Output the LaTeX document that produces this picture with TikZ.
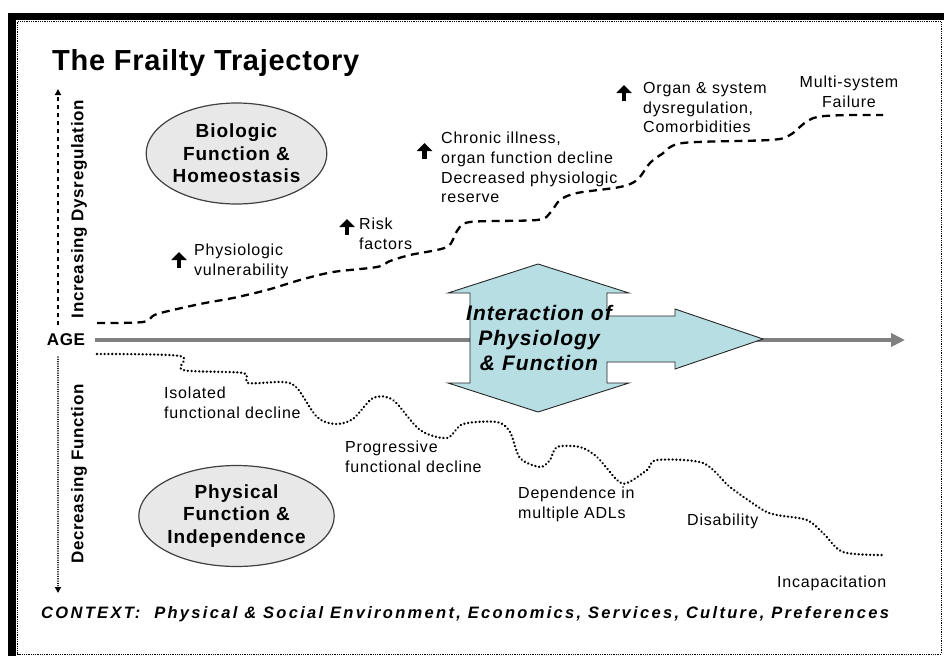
\documentclass[tikz,border=0pt]{standalone}
\usepackage{fontspec}
\setmainfont{Liberation Sans}
\usetikzlibrary{arrows.meta,shapes.geometric}
\definecolor{arrowfill}{RGB}{183,222,227}
\definecolor{ellfill}{RGB}{232,232,232}
\definecolor{axisgray}{RGB}{128,128,128}
\begin{document}
\begin{tikzpicture}[x=1pt,y=-1pt,
  lbl/.style={inner sep=0pt, anchor=north west, align=left,
    font=\fontsize{16pt}{19.7pt}\selectfont\addfontfeatures{LetterSpace=5}},
  ellbox/.style={ellipse, draw=black!75, line width=1.2pt, fill=ellfill,
    minimum width=177pt, minimum height=101pt, inner sep=0pt, align=center,
    font=\bfseries\fontsize{19pt}{22.5pt}\selectfont\addfontfeatures{LetterSpace=5}},
  sidelbl/.style={rotate=90, inner sep=0pt,
    font=\bfseries\fontsize{17pt}{20pt}\selectfont\addfontfeatures{LetterSpace=4}},
  uparr/.style={line width=4.6pt, -{Triangle[width=15pt,length=8pt]}},
  dashcurve/.style={line width=2.3pt, dash pattern=on 8pt off 5.5pt},
  dotcurve/.style={line width=2.6pt, line cap=round, dash pattern=on 0.01pt off 3.8pt},
]
\useasboundingbox (0,0) rectangle (944,656);
% frame
\fill[black] (8,13) rectangle (944,20);
\fill[black] (8,13) rectangle (16,656);
\draw[densely dotted, line width=0.8pt] (17.5,21.5) rectangle (941,654);

% title
\node[inner sep=0pt, anchor=north west,
  font=\bfseries\fontsize{29pt}{34pt}\selectfont\addfontfeatures{LetterSpace=2.5}]
  (title) at (52,49) {The Frailty Trajectory};

% side labels
\node[sidelbl] (incdys) at (79,209) {Increasing Dysregulation};
\node[sidelbl] (decfun) at (79,474) {Decreasing Function};
\node[inner sep=0pt, font=\bfseries\fontsize{17pt}{20pt}\selectfont\addfontfeatures{LetterSpace=4}]
  (age) at (66,340) {AGE};

% vertical arrows
\coordinate (vupA) at (58,325);
\coordinate (vupB) at (58,89);
\coordinate (vdnA) at (58,357);
\coordinate (vdnB) at (58,593);
\draw[line width=1.6pt, dash pattern=on 4pt off 4pt, -{Triangle[width=6pt,length=6pt]}] (vupA) -- (vupB);
\draw[line width=1.5pt, line cap=round, dash pattern=on 0.01pt off 2.3pt, -{Triangle[width=6pt,length=6pt]}] (vdnA) -- (vdnB);

% axis
\coordinate (axstart) at (95,340);
\coordinate (axend) at (905,340);
\draw[axisgray, line width=4pt, -{Triangle[width=13pt,length=14pt]}] (axstart) -- (axend);

% ellipses
\node[ellbox] (bio) at (236.5,153.5) {Biologic\\Function \&\\Homeostasis};
\node[ellbox] (phys) at (236.5,516) {Physical\\Function \&\\Independence};

% dashed (upper) trajectory
\draw[dashcurve] plot[smooth, tension=0.5] coordinates {
 (97,323) (143,322) (157,314) (200,304) (233,298) (267,290) (300,280) (333,272)
 (377,267) (390,261) (410,255) (447,247) (457,231) (470,222) (537,220) (550,213)
 (560,200) (577,193) (620,187) (637,180) (650,163) (662,154) (683,143) (770,140)
 (790,135) (817,117) (883,115)};

% dotted (lower) trajectory
\draw[dotcurve] plot[smooth, tension=0.5] coordinates {
 (97,354) (180,356) (183,370) (243,373) (248,383) (283,382) (297,388) (317,417)
 (335,424) (353,419) (373,398) (393,400) (420,430) (447,438) (463,424) (497,422)
 (510,432) (520,458) (540,467) (550,460) (557,447) (580,447) (597,457) (617,480)
 (627,483) (647,470) (657,460) (703,463) (730,487) (763,510) (777,515) (807,520)
 (823,533) (843,552) (882,555)};

% interaction arrow
\draw[fill=arrowfill, draw=black!85, line width=0.9pt, line join=miter]
 (538,264) -- (629,293) -- (607,293) -- (607,316) -- (675,316) -- (675,309)
 -- (763,339) -- (675,369) -- (675,362) -- (607,362) -- (607,383) -- (629,383)
 -- (538,412) -- (448,383) -- (470,383) -- (470,293) -- (448,293) -- cycle;
\node[inner sep=0pt, align=center,
  font=\bfseries\itshape\fontsize{21pt}{25pt}\selectfont\addfontfeatures{LetterSpace=5}]
  (inter) at (539,338) {Interaction of\\Physiology\\\& Function};

% upper labels
\draw[uparr] (179,268) -- (179,252);
\node[lbl] (vuln) at (194,244) {Physiologic\\vulnerability};
\draw[uparr] (347,235) -- (347,219);
\node[lbl] (risk) at (359,218) {Risk\\factors};
\draw[uparr] (424.5,159) -- (424.5,143);
\node[lbl] (chron) at (441,132) {Chronic illness,\\organ function decline\\Decreased physiologic\\reserve};
\draw[uparr] (624,101) -- (624,85);
\node[lbl] (organ) at (643,82) {Organ \& system\\dysregulation,\\Comorbidities};
\node[lbl, anchor=north, align=center] (multi) at (849,76) {Multi-system\\Failure};

% lower labels
\node[lbl] (iso) at (164,387) {Isolated\\functional decline};
\node[lbl] (prog) at (345,441) {Progressive\\functional decline};
\node[lbl] (dep) at (518,487) {Dependence in\\multiple ADLs};
\node[lbl] (dis) at (687,514) {Disability};
\node[lbl] (incap) at (777,576) {Incapacitation};

% context
\node[inner sep=0pt, anchor=north west,
  font=\bfseries\itshape\fontsize{16.5pt}{20pt}\selectfont\addfontfeatures{LetterSpace=14}]
  (context) at (41,606) {CONTEXT:\ \ Physical \& Social Environment, Economics, Services, Culture, Preferences};
\end{tikzpicture}
\end{document}
